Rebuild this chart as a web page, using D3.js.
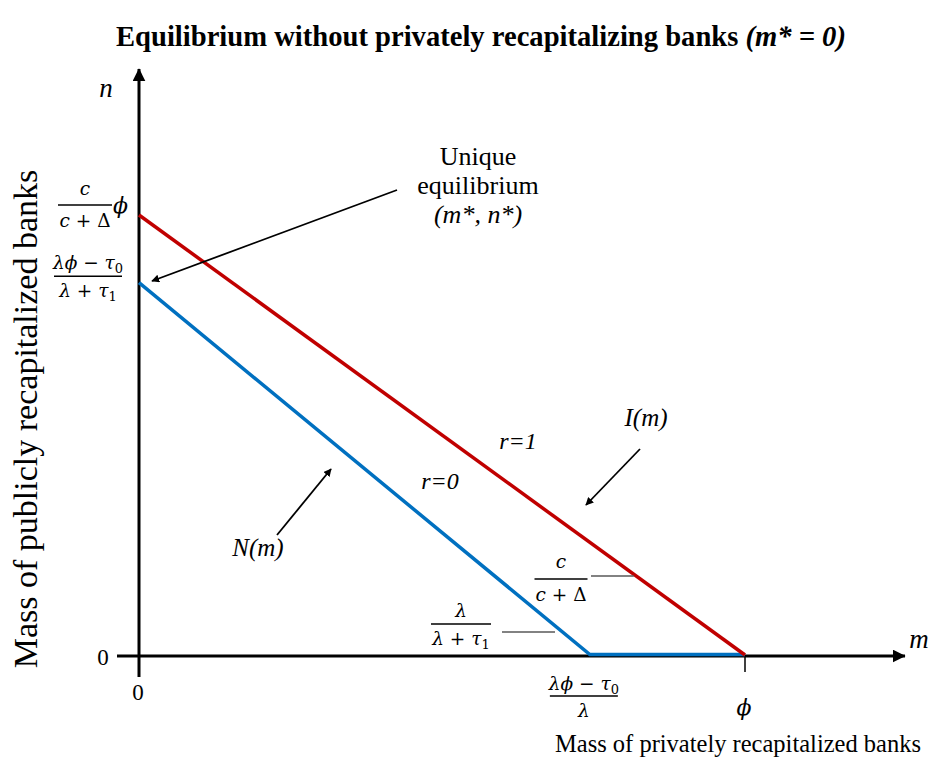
<!DOCTYPE html>
<html>
<head>
<meta charset="utf-8">
<script src="https://cdn.jsdelivr.net/npm/d3@7/dist/d3.min.js"></script>
<style>
  html, body { margin: 0; padding: 0; background: #fff; }
  svg { display: block; }
</style>
</head>
<body>
<svg id="chart" width="940" height="762"></svg>
<script>
// ---------------- DATA ----------------
const seriesNames = ["I(m)", "N(m)"];
const slopeLabels = ["r=1", "r=0"];
// I(m): red line, from (0, cφ/(c+Δ)) to (φ, 0)   (φ = 1, cφ/(c+Δ) = 1)
const iCurveM = [0, 1.0];
const iCurveN = [1.0, 0];
// N(m): blue line, from (0, (λφ−τ0)/(λ+τ1)) to ((λφ−τ0)/λ, 0), then along the axis to φ
const nCurveM = [0, 0.744, 1.0];
const nCurveN = [0.845, 0, 0];
// axis tick values
const xTickValues = [0, 0.744, 1.0];   // 0, (λφ−τ0)/λ, φ
const yTickValues = [0, 0.845, 1.0];   // 0, (λφ−τ0)/(λ+τ1), cφ/(c+Δ)
const titleText = "Equilibrium without privately recapitalizing banks ";
const titleItalic = "(m* = 0)";
const xAxisTitle = "Mass of privately recapitalized banks";
const yAxisTitle = "Mass of publicly recapitalized banks";
const annotationLines = ["Unique", "equilibrium", "(m*, n*)"];

// ---------------- LAYOUT ----------------
const svg = d3.select("#chart");
const x = d3.scaleLinear().domain([0, 1]).range([139, 745]);
const y = d3.scaleLinear().domain([0, 1]).range([656, 216]);
const xAxisExtent = [x.invert(117), x.invert(905)];
const yAxisExtent = [y.invert(677), y.invert(69)];

const RED = "#C00000", BLUE = "#0070C0";
const SERIF = "'Liberation Serif', 'Times New Roman', serif";
const MATH = "'DejaVu Serif', serif";

const defs = svg.append("defs");
defs.append("marker")
  .attr("id", "arr").attr("viewBox", "0 0 10 10")
  .attr("refX", 9).attr("refY", 5)
  .attr("markerWidth", 8).attr("markerHeight", 8)
  .attr("markerUnits", "userSpaceOnUse")
  .attr("orient", "auto")
  .append("path").attr("d", "M0,0 L10,5 L0,10 Z").attr("fill", "#000");
defs.append("marker")
  .attr("id", "arrBig").attr("viewBox", "0 0 10 10")
  .attr("refX", 9.5).attr("refY", 5)
  .attr("markerWidth", 13).attr("markerHeight", 13)
  .attr("markerUnits", "userSpaceOnUse")
  .attr("orient", "auto")
  .append("path").attr("d", "M0,0 L10,5 L0,10 Z").attr("fill", "#000");

// Title
const title = svg.append("text")
  .attr("x", 481).attr("y", 46)
  .attr("text-anchor", "middle")
  .attr("font-family", SERIF).attr("font-weight", "bold").attr("font-size", 28.6)
  .attr("fill", "#000");
title.append("tspan").text(titleText);
title.append("tspan").attr("font-style", "italic").text(titleItalic);

// Axes (lines with arrow heads)
svg.append("line")
  .attr("x1", x(xAxisExtent[0])).attr("x2", x(xAxisExtent[1]))
  .attr("y1", y(0)).attr("y2", y(0))
  .attr("stroke", "#000").attr("stroke-width", 3)
  .attr("marker-end", "url(#arrBig)");
svg.append("line")
  .attr("x1", x(0)).attr("x2", x(0))
  .attr("y1", y(yAxisExtent[0])).attr("y2", y(yAxisExtent[1]))
  .attr("stroke", "#000").attr("stroke-width", 3)
  .attr("marker-end", "url(#arrBig)");
// tick at φ
svg.append("line")
  .attr("x1", x(xTickValues[2])).attr("x2", x(xTickValues[2]))
  .attr("y1", y(0)).attr("y2", y(0) + 16)
  .attr("stroke", "#000").attr("stroke-width", 1.5);

// Curves
const line = d3.line().x(d => x(d[0])).y(d => y(d[1]));
const nData = nCurveM.map((m, i) => [m, nCurveN[i]]);
const iData = iCurveM.map((m, i) => [m, iCurveN[i]]);
svg.append("path").datum(nData).attr("d", line)
  .attr("fill", "none").attr("stroke", BLUE).attr("stroke-width", 3.5)
  .attr("transform", "translate(0,-1.5)");
svg.append("path").datum(iData).attr("d", line)
  .attr("fill", "none").attr("stroke", RED).attr("stroke-width", 3.5)
  .attr("transform", "translate(0,-1)");

// axis letters
svg.append("text").attr("x", 106).attr("y", 97).attr("text-anchor", "middle")
  .attr("font-family", SERIF).attr("font-style", "italic").attr("font-size", 27).text("n");
svg.append("text").attr("x", 919).attr("y", 648).attr("text-anchor", "middle")
  .attr("font-family", SERIF).attr("font-style", "italic").attr("font-size", 27).text("m");

// zero labels
svg.append("text").attr("x", 103).attr("y", 665).attr("text-anchor", "middle")
  .attr("font-family", SERIF).attr("font-size", 23).text("0");
svg.append("text").attr("x", x(xTickValues[0]) - 1).attr("y", 700).attr("text-anchor", "middle")
  .attr("font-family", SERIF).attr("font-size", 23).text("0");

// axis titles
svg.append("text").attr("x", 555).attr("y", 752)
  .attr("font-family", SERIF).attr("font-size", 24.5).text(xAxisTitle);
svg.append("text")
  .attr("transform", "translate(37,419) rotate(-90)")
  .attr("text-anchor", "middle")
  .attr("font-family", SERIF).attr("font-size", 34).text(yAxisTitle);

// ---------- math helpers ----------
function mathText(g, xPos, yPos, parts, anchor) {
  const t = g.append("text").attr("x", xPos).attr("y", yPos)
    .attr("text-anchor", anchor || "middle")
    .attr("font-family", MATH).attr("font-size", 18.5).attr("fill", "#000");
  let sub = false;
  parts.forEach(p => {
    const [s, st] = p;
    const ts = t.append("tspan").text(s);
    if (st === "i") ts.attr("font-style", "italic");
    if (st === "s") {
      ts.attr("font-size", 13).attr("dy", 4);
      sub = true;
    } else if (sub) {
      ts.attr("dy", -4); sub = false;
    }
  });
  return t;
}
function frac(cx, barY, barW, num, den, numOff, denOff) {
  const g = svg.append("g");
  g.append("line").attr("x1", cx - barW / 2).attr("x2", cx + barW / 2)
    .attr("y1", barY).attr("y2", barY).attr("stroke", "#000").attr("stroke-width", 1.4);
  mathText(g, cx, barY - (numOff || 9), num);
  mathText(g, cx, barY + (denOff || 21), den);
  return g;
}
const C = [["c", "i"]];
const CD = [["c", "i"], [" + ", "n"], ["Δ", "n"]];
const LPT0 = [["λϕ", "i"], [" − ", "n"], ["τ", "i"], ["0", "s"]];
const LT1 = [["λ", "i"], [" + ", "n"], ["τ", "i"], ["1", "s"]];
const L = [["λ", "i"]];

// y tick labels
frac(85, y(yTickValues[2]) - 11, 54, C, CD, 10, 22);
mathText(svg, 113, 213, [["ϕ", "i"]], "start").attr("font-size", 22);
frac(88, y(yTickValues[1]) - 8, 68, LPT0, LT1, 7, 21);

// x tick labels
frac(x(xTickValues[1]) - 6, 696, 68, LPT0, L, 6, 21);
mathText(svg, x(xTickValues[2]) - 1, 715, [["ϕ", "i"]]).attr("font-size", 22);

// slope fraction labels with leader lines
const redAt = yy => x(d3.scaleLinear().domain([y(iCurveN[0]), y(iCurveN[1])]).range([iCurveM[0], iCurveM[1]])(yy));
frac(561, 579, 53, C, CD, 11, 22);
svg.append("line").attr("x1", 591).attr("x2", redAt(576) - 1)
  .attr("y1", 576).attr("y2", 576).attr("stroke", "#595959").attr("stroke-width", 1.5);
frac(461, 624, 60, L, LT1, 7, 21);
svg.append("line").attr("x1", 502).attr("x2", 555)
  .attr("y1", 632).attr("y2", 632).attr("stroke", "#595959").attr("stroke-width", 1.5);

// slope labels
svg.append("text").attr("x", 518).attr("y", 449).attr("text-anchor", "middle")
  .attr("font-family", SERIF).attr("font-style", "italic").attr("font-size", 24).text(slopeLabels[0]);
svg.append("text").attr("x", 440).attr("y", 489).attr("text-anchor", "middle")
  .attr("font-family", SERIF).attr("font-style", "italic").attr("font-size", 24).text(slopeLabels[1]);

// series labels with arrows
svg.append("text").attr("x", 646).attr("y", 426).attr("text-anchor", "middle")
  .attr("font-family", SERIF).attr("font-style", "italic").attr("font-size", 25).text(seriesNames[0]);
svg.append("line").attr("x1", 640).attr("y1", 449).attr("x2", 586).attr("y2", 505)
  .attr("stroke", "#000").attr("stroke-width", 1.8).attr("marker-end", "url(#arr)");
svg.append("text").attr("x", 258).attr("y", 556).attr("text-anchor", "middle")
  .attr("font-family", SERIF).attr("font-style", "italic").attr("font-size", 25).text(seriesNames[1]);
svg.append("line").attr("x1", 277).attr("y1", 535).attr("x2", 331).attr("y2", 469)
  .attr("stroke", "#000").attr("stroke-width", 1.8).attr("marker-end", "url(#arr)");

// equilibrium annotation
annotationLines.forEach((s, i) => {
  svg.append("text").attr("x", 478).attr("y", 165 + i * 29)
    .attr("text-anchor", "middle")
    .attr("font-family", SERIF).attr("font-size", 26)
    .attr("font-style", i === 2 ? "italic" : "normal").text(s);
});
svg.append("line").attr("x1", 397).attr("y1", 190).attr("x2", 152).attr("y2", 281)
  .attr("stroke", "#000").attr("stroke-width", 1.8).attr("marker-end", "url(#arr)");
</script>
</body>
</html>
